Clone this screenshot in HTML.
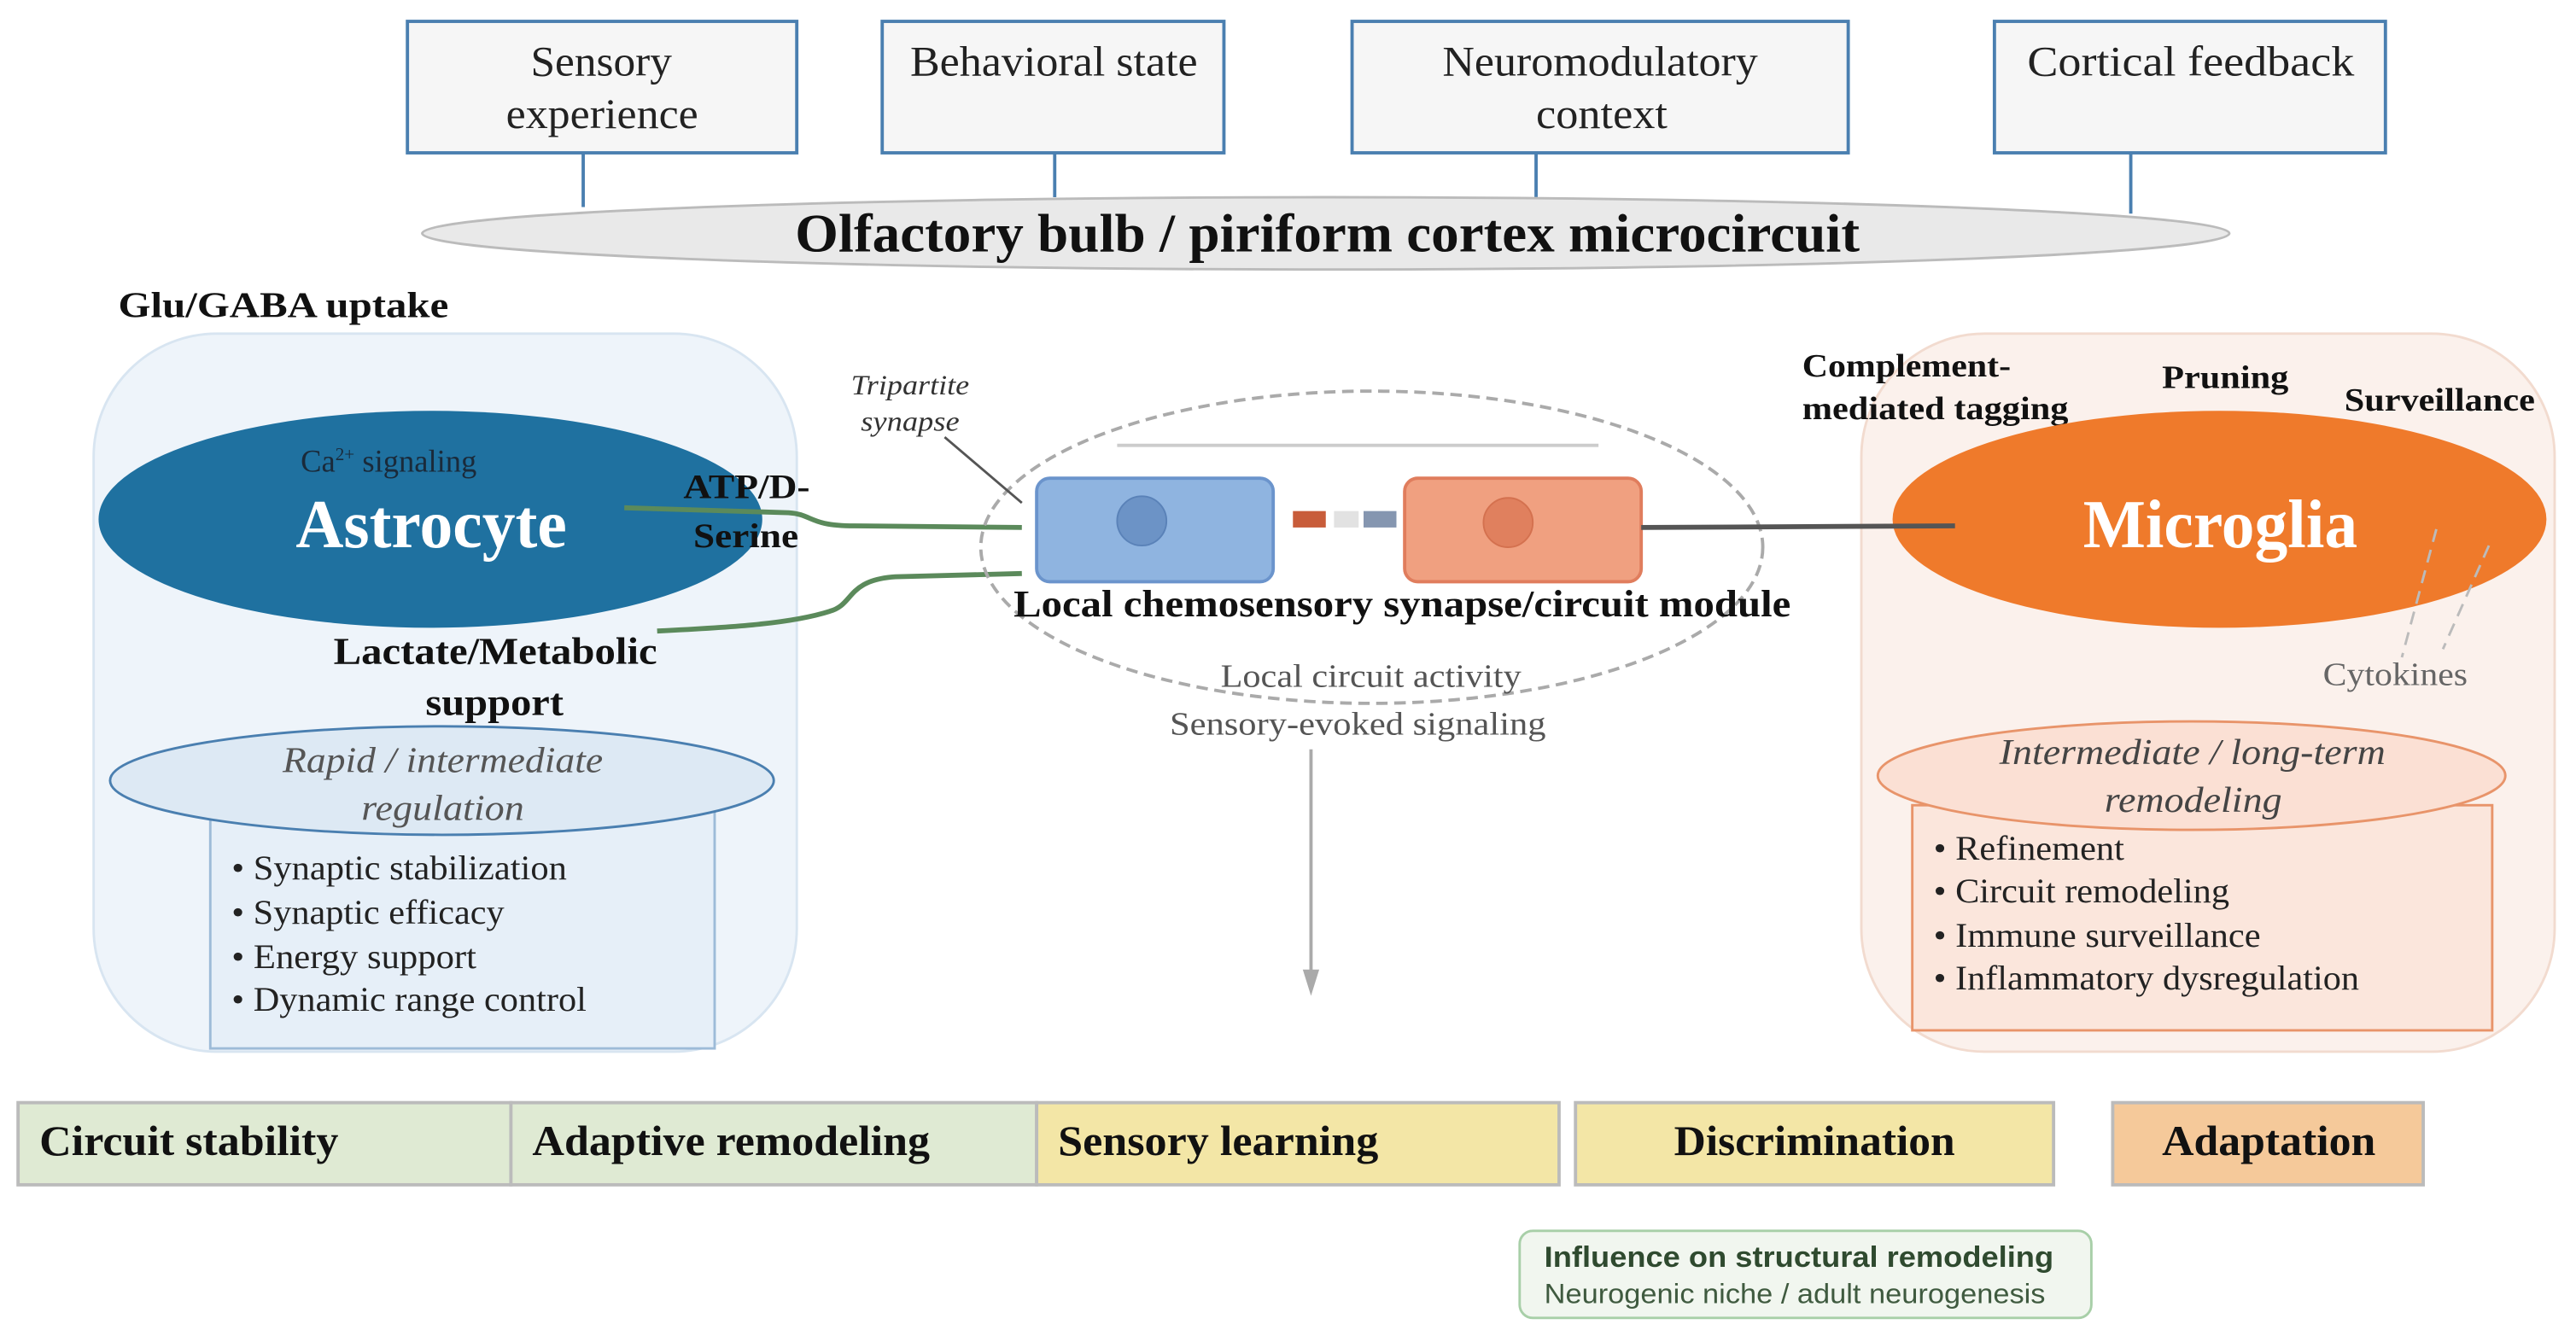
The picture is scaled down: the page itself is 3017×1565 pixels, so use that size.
<!DOCTYPE html>
<html><head><meta charset="utf-8"><style>
html,body{margin:0;padding:0;background:#fff;}
svg{display:block;}
text{font-family:"Liberation Serif",serif;}
.s{font-family:"Liberation Sans",sans-serif;}
</style></head><body>
<svg width="3017" height="1565" viewBox="0 0 1568 813" preserveAspectRatio="none" xmlns="http://www.w3.org/2000/svg">
<g fill="#f6f6f6" stroke="#4a7fb0" stroke-width="2">
<rect x="248" y="13" width="237" height="80"/>
<rect x="537" y="13" width="208" height="80"/>
<rect x="823" y="13" width="302" height="80"/>
<rect x="1214" y="13" width="238" height="80"/>
</g>
<g stroke="#4a7fb0" stroke-width="2">
<line x1="355" y1="93" x2="355" y2="126"/>
<line x1="642" y1="93" x2="642" y2="120"/>
<line x1="935" y1="93" x2="935" y2="120"/>
<line x1="1297" y1="93" x2="1297" y2="130"/>
</g>
<g font-size="26" fill="#222">
<text x="323" y="46" textLength="86" lengthAdjust="spacingAndGlyphs">Sensory</text>
<text x="308" y="78" textLength="117" lengthAdjust="spacingAndGlyphs">experience</text>
<text x="554" y="46" textLength="175" lengthAdjust="spacingAndGlyphs">Behavioral state</text>
<text x="878" y="46" textLength="192" lengthAdjust="spacingAndGlyphs">Neuromodulatory</text>
<text x="935" y="78" textLength="80" lengthAdjust="spacingAndGlyphs">context</text>
<text x="1234" y="46" textLength="199" lengthAdjust="spacingAndGlyphs">Cortical  feedback</text>
</g>
<ellipse cx="807" cy="142" rx="550" ry="22" fill="#e9e9e9" stroke="#bbb" stroke-width="1.5"/>
<text x="484" y="153" font-size="33" font-weight="bold" fill="#111" textLength="648" lengthAdjust="spacingAndGlyphs">Olfactory bulb / piriform cortex microcircuit</text>

<text x="72" y="193" font-size="22" font-weight="bold" fill="#111" textLength="201" lengthAdjust="spacingAndGlyphs">Glu/GABA uptake</text>
<rect x="57" y="203" width="428" height="437" rx="75" fill="#eef4fa" stroke="#d8e5f1" stroke-width="1.5"/>
<ellipse cx="262" cy="316" rx="202" ry="66" fill="#1f71a0"/>
<text x="183" y="287" font-size="19" fill="#1a2a3a">Ca<tspan font-size="11" dy="-7">2+</tspan><tspan dy="7"> signaling</tspan></text>
<text x="180" y="333" font-size="42" font-weight="bold" fill="#fff" textLength="165" lengthAdjust="spacingAndGlyphs">Astrocyte</text>
<text x="416" y="303" font-size="21" font-weight="bold" fill="#111" textLength="77" lengthAdjust="spacingAndGlyphs">ATP/D-</text>
<text x="422" y="333" font-size="21" font-weight="bold" fill="#111" textLength="64" lengthAdjust="spacingAndGlyphs">Serine</text>
<path d="M380,309 L480,312 C495,313 492,320 520,320 L622,321" fill="none" stroke="#5b8a5b" stroke-width="3"/>
<path d="M622,349 L545,351 C515,353 520,368 505,372 C480,380 440,382 400,384" fill="none" stroke="#5b8a5b" stroke-width="3"/>
<text x="203" y="404" font-size="23" font-weight="bold" fill="#111" textLength="197" lengthAdjust="spacingAndGlyphs">Lactate/Metabolic</text>
<text x="259" y="435" font-size="23" font-weight="bold" fill="#111" textLength="84" lengthAdjust="spacingAndGlyphs">support</text>
<rect x="128" y="493" width="307" height="145" fill="#e6eff8" stroke="#9dbbd8" stroke-width="1.5"/>
<ellipse cx="269" cy="475" rx="202" ry="33" fill="#dde9f4" stroke="#4a7fb0" stroke-width="1.5"/>
<text x="172" y="470" font-size="22" font-style="italic" fill="#555" textLength="195" lengthAdjust="spacingAndGlyphs">Rapid / intermediate</text>
<text x="220" y="499" font-size="22" font-style="italic" fill="#555" textLength="99" lengthAdjust="spacingAndGlyphs">regulation</text>
<g font-size="21" fill="#222">
<text x="141" y="535" textLength="204" lengthAdjust="spacingAndGlyphs">• Synaptic stabilization</text>
<text x="141" y="562" textLength="166" lengthAdjust="spacingAndGlyphs">• Synaptic efficacy</text>
<text x="141" y="589" textLength="149" lengthAdjust="spacingAndGlyphs">• Energy support</text>
<text x="141" y="615" textLength="216" lengthAdjust="spacingAndGlyphs">• Dynamic range control</text>
</g>

<ellipse cx="835" cy="333" rx="238" ry="95" fill="none" stroke="#aaa" stroke-width="2" stroke-dasharray="7,4"/>
<line x1="680" y1="271" x2="973" y2="271" stroke="#ccc" stroke-width="2"/>
<text x="518" y="240" font-size="17" font-style="italic" fill="#333" textLength="72" lengthAdjust="spacingAndGlyphs">Tripartite</text>
<text x="524" y="262" font-size="17" font-style="italic" fill="#333" textLength="60" lengthAdjust="spacingAndGlyphs">synapse</text>
<line x1="575" y1="266" x2="622" y2="306" stroke="#555" stroke-width="1.5"/>
<rect x="631" y="291" width="144" height="63" rx="8" fill="#8fb4e0" stroke="#6b94cc" stroke-width="2"/>
<circle cx="695" cy="317" r="15" fill="#6c93c6" stroke="#5a82b8"/>
<rect x="787" y="311" width="20" height="10" fill="#c85c3a"/>
<rect x="812" y="311" width="15" height="10" fill="#e2e2e2"/>
<rect x="830" y="311" width="20" height="10" fill="#8596b0"/>
<rect x="855" y="291" width="144" height="63" rx="8" fill="#f0a080" stroke="#e07d5d" stroke-width="2"/>
<circle cx="918" cy="318" r="15" fill="#e0805e" stroke="#d4714f"/>
<text x="617" y="375" font-size="23" font-weight="bold" fill="#111" textLength="473" lengthAdjust="spacingAndGlyphs">Local chemosensory synapse/circuit module</text>
<text x="743" y="418" font-size="20" fill="#555" textLength="183" lengthAdjust="spacingAndGlyphs">Local circuit activity</text>
<text x="712" y="447" font-size="20" fill="#555" textLength="229" lengthAdjust="spacingAndGlyphs">Sensory-evoked signaling</text>
<line x1="798" y1="456" x2="798" y2="594" stroke="#aaa" stroke-width="2"/>
<polygon points="793,590 803,590 798,606" fill="#aaa"/>

<rect x="1133" y="203" width="422" height="437" rx="75" fill="#fbf1ec" stroke="#f2dbcf" stroke-width="1.5"/>
<g font-size="20" font-weight="bold" fill="#111">
<text x="1097" y="229" textLength="127" lengthAdjust="spacingAndGlyphs">Complement-</text>
<text x="1097" y="255" textLength="162" lengthAdjust="spacingAndGlyphs">mediated tagging</text>
<text x="1316" y="236" textLength="77" lengthAdjust="spacingAndGlyphs">Pruning</text>
<text x="1427" y="250" textLength="116" lengthAdjust="spacingAndGlyphs">Surveillance</text>
</g>
<ellipse cx="1351" cy="316" rx="199" ry="66" fill="#ef7a2b"/>
<line x1="999" y1="321" x2="1190" y2="320" stroke="#555" stroke-width="3"/>
<text x="1268" y="333" font-size="42" font-weight="bold" fill="#fff" textLength="167" lengthAdjust="spacingAndGlyphs">Microglia</text>
<g stroke="#bbb" stroke-width="1.5" stroke-dasharray="8,5" fill="none">
<line x1="1483" y1="322" x2="1462" y2="400"/>
<line x1="1515" y1="332" x2="1487" y2="395"/>
</g>
<text x="1414" y="417" font-size="20" fill="#666" textLength="88" lengthAdjust="spacingAndGlyphs">Cytokines</text>
<rect x="1164" y="490" width="353" height="137" fill="#fbe6dc" stroke="#e8946a" stroke-width="1.5"/>
<ellipse cx="1334" cy="472" rx="191" ry="33" fill="#fbe0d4" stroke="#e8946a" stroke-width="1.5"/>
<text x="1217" y="465" font-size="22" font-style="italic" fill="#444" textLength="235" lengthAdjust="spacingAndGlyphs">Intermediate / long-term</text>
<text x="1281" y="494" font-size="22" font-style="italic" fill="#444" textLength="108" lengthAdjust="spacingAndGlyphs">remodeling</text>
<g font-size="21" fill="#222">
<text x="1177" y="523" textLength="116" lengthAdjust="spacingAndGlyphs">• Refinement</text>
<text x="1177" y="549" textLength="180" lengthAdjust="spacingAndGlyphs">• Circuit remodeling</text>
<text x="1177" y="576" textLength="199" lengthAdjust="spacingAndGlyphs">• Immune surveillance</text>
<text x="1177" y="602" textLength="259" lengthAdjust="spacingAndGlyphs">• Inflammatory dysregulation</text>
</g>

<g stroke="#bbb" stroke-width="2">
<rect x="11" y="671" width="300" height="50" fill="#dfead3"/>
<rect x="311" y="671" width="320" height="50" fill="#dfead3"/>
<rect x="631" y="671" width="318" height="50" fill="#f3e6a6"/>
<rect x="959" y="671" width="291" height="50" fill="#f3e6a6"/>
<rect x="1286" y="671" width="189" height="50" fill="#f5c99a"/>
</g>
<g font-size="26" font-weight="bold" fill="#111">
<text x="24" y="703" textLength="182" lengthAdjust="spacingAndGlyphs">Circuit stability</text>
<text x="324" y="703" textLength="242" lengthAdjust="spacingAndGlyphs">Adaptive remodeling</text>
<text x="644" y="703" textLength="195" lengthAdjust="spacingAndGlyphs">Sensory learning</text>
<text x="1019" y="703" textLength="171" lengthAdjust="spacingAndGlyphs">Discrimination</text>
<text x="1316" y="703" textLength="130" lengthAdjust="spacingAndGlyphs">Adaptation</text>
</g>
<rect x="925" y="749" width="348" height="53" rx="8" fill="#f1f6ef" stroke="#a8cfa8" stroke-width="1.5"/>
<text class="s" x="940" y="771" font-size="18" font-weight="bold" fill="#2f4a2f" textLength="310" lengthAdjust="spacingAndGlyphs">Influence on structural remodeling</text>
<text class="s" x="940" y="793" font-size="17" fill="#3f5a3f" textLength="305" lengthAdjust="spacingAndGlyphs">Neurogenic niche / adult neurogenesis</text>
</svg>
</body></html>
